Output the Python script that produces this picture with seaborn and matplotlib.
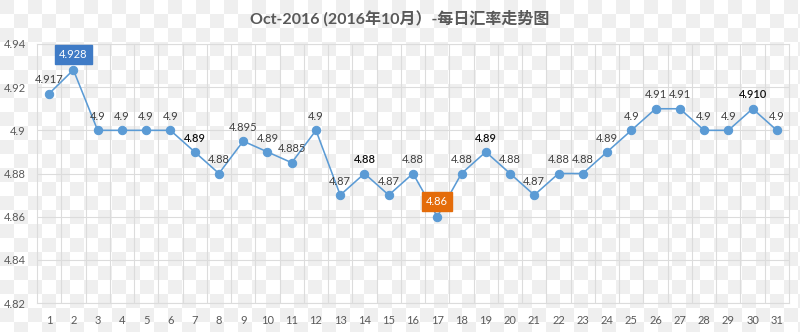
import numpy as np
import pandas as pd
import matplotlib
matplotlib.use("Agg")
import matplotlib.pyplot as plt
import seaborn as sns

# ---- data ----
days = list(range(1, 32))
rates = [4.917, 4.928, 4.9, 4.9, 4.9, 4.9, 4.89, 4.88, 4.895, 4.89, 4.885, 4.9,
         4.87, 4.88, 4.87, 4.88, 4.86, 4.88, 4.89, 4.88, 4.87, 4.88, 4.88, 4.89,
         4.9, 4.91, 4.91, 4.9, 4.9, 4.910, 4.9]
point_labels = ["4.917", "4.928", "4.9", "4.9", "4.9", "4.9", "4.89", "4.88", "4.895",
                "4.89", "4.885", "4.9", "4.87", "4.88", "4.87", "4.88", "4.86", "4.88",
                "4.89", "4.88", "4.87", "4.88", "4.88", "4.89", "4.9", "4.91", "4.91",
                "4.9", "4.9", "4.910", "4.9"]
bold_days = [7, 14, 19, 30]
max_day = 2
min_day = 17
y_ticks = [4.82, 4.84, 4.86, 4.88, 4.90, 4.92, 4.94]
y_tick_labels = ["4.82", "4.84", "4.86", "4.88", "4.9", "4.92", "4.94"]
title = "Oct-2016 (2016年10月）-每日汇率走势图"

df = pd.DataFrame({"day": days, "rate": rates})

sns.set_theme(style="white")
plt.rcParams["font.family"] = ["Lato", "Noto Sans CJK SC", "DejaVu Sans"]

W, H = 800, 332
fig = plt.figure(figsize=(W / 100, H / 100), dpi=100)
fig.patch.set_facecolor("white")

# checkerboard background (transparent-look)
bg_ax = fig.add_axes([0, 0, 1, 1], zorder=-5)
sq = 14
yy, xx = np.mgrid[0:H, 0:W]
chk = ((xx // sq + yy // sq) % 2 == 0)
bg = np.where(chk, 0.935, 1.0)
bg_ax.imshow(bg, cmap="gray", vmin=0, vmax=1, interpolation="nearest",
             extent=(0, W, H, 0), aspect="auto")
bg_ax.set_axis_off()

ax = fig.add_axes([37 / W, 1 - 303 / H, (789 - 37) / W, (303 - 44) / H], zorder=1)
ax.set_facecolor("none")

line_color = "#5b9bd5"
sns.lineplot(data=df, x="day", y="rate", ax=ax, color=line_color, linewidth=1.15,
             marker="o", markersize=6, markeredgecolor=line_color,
             markerfacecolor=line_color, zorder=3)

ax.set_xlim(0.5, 31.5)
ax.set_ylim(4.82, 4.94)
ax.set_xticks(days)
ax.set_xticklabels([str(d) for d in days])
ax.set_yticks(y_ticks)
ax.set_yticklabels(y_tick_labels)
ax.set_xticks([d + 0.5 for d in days[:-1]], minor=True)
ax.tick_params(axis="both", which="both", length=0, labelsize=8, colors="#595959")
ax.tick_params(axis="x", pad=9)
ax.tick_params(axis="y", pad=8)
ax.grid(True, axis="y", which="major", color="#dcdcdc", linewidth=0.8)
ax.grid(True, axis="x", which="minor", color="#dcdcdc", linewidth=0.8)
ax.grid(False, axis="x", which="major")
for s in ax.spines.values():
    s.set_color("#dcdcdc")
    s.set_linewidth(0.8)
ax.set_xlabel("")
ax.set_ylabel("")

for d, r, lab in zip(days, rates, point_labels):
    if d == max_day:
        ax.annotate(lab, (d, r), xytext=(0, 11), textcoords="offset points",
                    ha="center", va="center", fontsize=8, color="white",
                    bbox=dict(boxstyle="square,pad=0.35", fc="#3f7bc6", ec="#3f7bc6"),
                    zorder=5)
    elif d == min_day:
        ax.annotate(lab, (d, r), xytext=(0, 11), textcoords="offset points",
                    ha="center", va="center", fontsize=8, color="white",
                    bbox=dict(boxstyle="square,pad=0.35", fc="#e46c0a", ec="#e46c0a"),
                    zorder=5)
    else:
        bold = d in bold_days
        ax.annotate(lab, (d, r), xytext=(0, 10), textcoords="offset points",
                    ha="center", va="center", fontsize=8,
                    color="#111111" if bold else "#404040",
                    fontweight="semibold" if bold else "normal", zorder=5)

fig.text(0.5, 1 - 18 / H, title, ha="center", va="center", fontsize=11.5,
         fontweight="bold", color="#595959",
         family=["Lato", "Noto Sans CJK SC", "DejaVu Sans"])

fig.savefig("out.png", dpi=100)
